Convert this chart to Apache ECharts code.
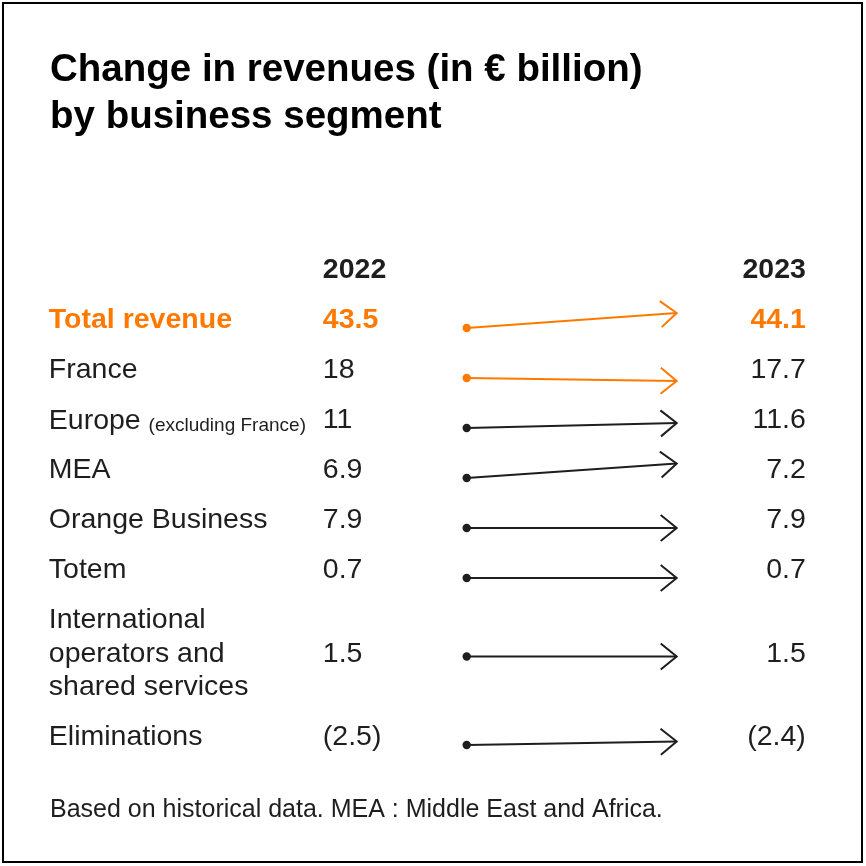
<!DOCTYPE html>
<html>
<head>
<meta charset="utf-8">
<title>Change in revenues by business segment</title>
<script src="https://cdn.jsdelivr.net/npm/echarts@6/dist/echarts.min.js"></script>
<style>
html,body{margin:0;padding:0;background:#fff;}
#chart{width:866px;height:866px;}
</style>
</head>
<body>
<div id="chart"></div>
<script>
var years = ['2022', '2023'];
var segments = ['Total revenue', 'France', 'Europe', 'MEA', 'Orange Business', 'Totem',
    'International\noperators and\nshared services', 'Eliminations'];
var segmentNotes = ['', '', '(excluding France)', '', '', '', '', ''];
var rev2022 = ['43.5', '18', '11', '6.9', '7.9', '0.7', '1.5', '(2.5)'];
var rev2023 = ['44.1', '17.7', '11.6', '7.2', '7.9', '0.7', '1.5', '(2.4)'];
// tilt of each arrow as drawn (row units, + = up)
var arrowRise = [0.30, -0.06, 0.10, 0.29, 0, 0, 0, 0.07];
var arrowOrange = [1, 1, 0, 0, 0, 0, 0, 0];

var ORANGE = '#ff7900', INK = '#1e1e1e';
var FONT = '"Liberation Sans", Arial, Helvetica, sans-serif';
var BODY = 28.5;
var SUB_LINE = 0.67;   // extra line inside a row, in row units

// row centres on the hidden y axis: header = 0, one row = 1
var rowPos = [];
(function () {
    var y = 0, prevHalf = 0.5;
    for (var i = 0; i < segments.length; i++) {
        var n = segments[i].split('\n').length;
        var half = (1 + (n - 1) * SUB_LINE) / 2;
        y += prevHalf + half;
        rowPos.push(y);
        prevHalf = half;
    }
})();

// x columns on the hidden x axis: 0 = 2022 dot, 1 = 2023 arrow tip
var COL_NAME = -1.99, COL_2022 = -0.685, COL_2023 = 1.615;

var chart = echarts.init(document.getElementById('chart'));

function textEl(x, y, txt, opt) {
    return {
        type: 'text',
        x: x, y: y + 2.5,
        style: Object.assign({
            text: txt,
            fill: INK,
            fontFamily: FONT,
            fontSize: BODY,
            textAlign: 'left',
            textVerticalAlign: 'middle'
        }, opt || {})
    };
}

var tableData = [-1].concat(segments.map(function (s, i) { return i; }));

var option = {
    animation: false,
    backgroundColor: '#fff',
    title: [{
        text: 'Change in revenues (in € billion)\nby business segment',
        left: 45,
        top: 42,
        textStyle: {
            color: '#000',
            fontFamily: FONT,
            fontSize: 38.5,
            fontWeight: 'bold',
            lineHeight: 47
        }
    }, {
        text: 'Based on historical data. MEA : Middle East and Africa.',
        left: 45,
        top: 793,
        textStyle: {
            color: INK,
            fontFamily: FONT,
            fontSize: 25,
            fontWeight: 'normal'
        }
    }],
    graphic: [{
        type: 'rect',
        shape: { x: 3, y: 3, width: 859, height: 859 },
        style: { fill: null, stroke: '#000', lineWidth: 2 },
        silent: true
    }],
    grid: { left: 46.7, top: 268, width: 766.5, height: 500 },
    xAxis: { type: 'value', min: -2, max: 1.65, show: false },
    yAxis: { type: 'value', min: 0, max: 10, inverse: true, show: false },
    series: [{
        // table text: header, names, 2022 and 2023 values
        type: 'custom',
        data: tableData,
        renderItem: function (params, api) {
            var i = api.value(0);
            var y = i < 0 ? 0 : rowPos[i];
            var pName = api.coord([COL_NAME, y]);
            var p22 = api.coord([COL_2022, y]);
            var p23 = api.coord([COL_2023, y]);
            var kids = [];
            if (i < 0) {
                kids.push(textEl(p22[0], p22[1], years[0], { fontWeight: 'bold' }));
                kids.push(textEl(p23[0], p23[1], years[1], { fontWeight: 'bold', textAlign: 'right' }));
                return { type: 'group', children: kids };
            }
            var strong = i === 0;
            var col = strong ? ORANGE : INK;
            var w = strong ? 'bold' : 'normal';
            if (segmentNotes[i]) {
                kids.push(textEl(pName[0], pName[1], '{a|' + segments[i] + '} {b|' + segmentNotes[i] + '}', {
                    rich: {
                        a: { fontSize: BODY, fontFamily: FONT, fill: col, lineHeight: 30, verticalAlign: 'bottom' },
                        b: { fontSize: 19, fontFamily: FONT, fill: col, lineHeight: 30, verticalAlign: 'bottom' }
                    }
                }));
            } else {
                kids.push(textEl(pName[0], pName[1], segments[i], { fill: col, fontWeight: w, lineHeight: 33.5 }));
            }
            kids.push(textEl(p22[0], p22[1], rev2022[i], { fill: col, fontWeight: w }));
            kids.push(textEl(p23[0], p23[1], rev2023[i], { fill: col, fontWeight: w, textAlign: 'right' }));
            return { type: 'group', children: kids };
        }
    }, {
        // arrows from 2022 to 2023
        type: 'custom',
        data: segments.map(function (s, i) { return i; }),
        renderItem: function (params, api) {
            var i = api.value(0);
            var base = rowPos[i] + (segments[i].indexOf('\n') >= 0 ? 0.1 : 0.2);
            var a = api.coord([0, base]);
            var b = api.coord([1, base - arrowRise[i]]);
            var col = arrowOrange[i] ? ORANGE : INK;
            var ang = Math.atan2(b[1] - a[1], b[0] - a[0]);
            var back = 16, spread = 13;
            function pt(dx, dy) {
                return [b[0] + dx * Math.cos(ang) - dy * Math.sin(ang),
                        b[1] + dx * Math.sin(ang) + dy * Math.cos(ang)];
            }
            return {
                type: 'group',
                children: [{
                    type: 'line',
                    shape: { x1: a[0], y1: a[1], x2: b[0], y2: b[1] },
                    style: { stroke: col, lineWidth: 2 }
                }, {
                    type: 'polyline',
                    shape: { points: [pt(-back, -spread), b, pt(-back, spread)] },
                    style: { stroke: col, lineWidth: 2, fill: null }
                }, {
                    type: 'circle',
                    shape: { cx: a[0], cy: a[1], r: 4.2 },
                    style: { fill: col }
                }]
            };
        }
    }]
};

chart.setOption(option);
</script>
</body>
</html>
